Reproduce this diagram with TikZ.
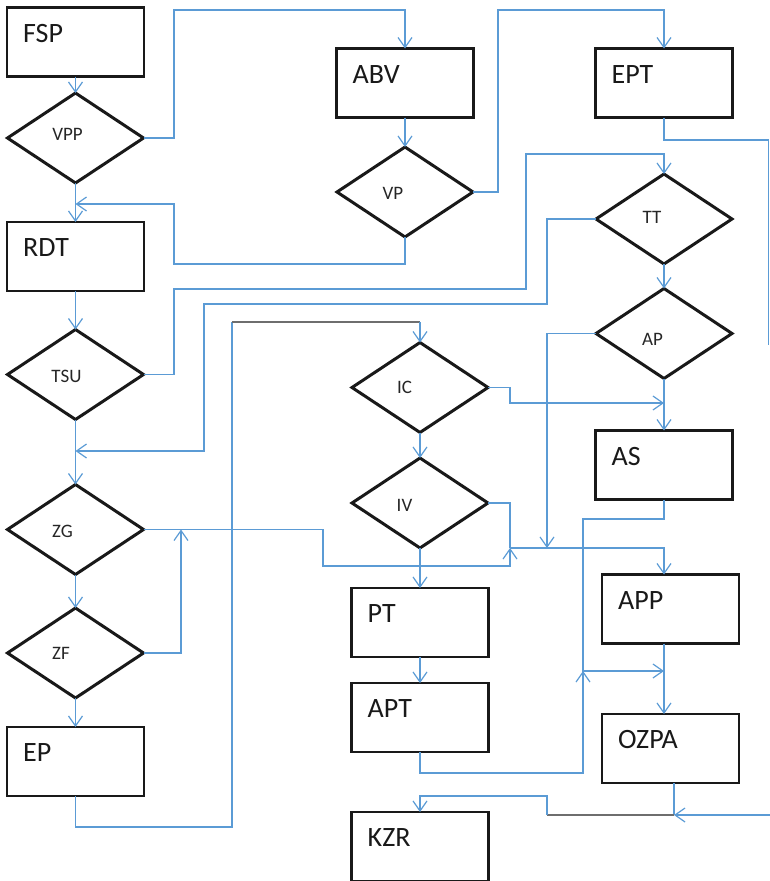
\documentclass[tikz,border=0pt]{standalone}
\usepackage{fontspec}
\setmainfont{Carlito}
\usetikzlibrary{shapes.geometric,arrows.meta,calc}
\definecolor{linkblue}{HTML}{5B9BD5}
\definecolor{linkgray}{HTML}{6E6E6E}
\begin{document}
\begin{tikzpicture}[x=1pt,y=-1pt,
  boxlbl/.style={anchor=west, xshift=16pt, yshift=-26pt, font=\fontsize{28}{30}\selectfont, inner sep=0pt, text=black!90},
  boxn/.style={draw=black!90, line width=2.4pt, rectangle, minimum width=137pt, minimum height=69pt, inner sep=0pt, outer sep=0pt, label={[boxlbl]north west:#1}},
  dia/.style={draw=black!90, line width=3pt, diamond, minimum width=136pt, minimum height=90pt, inner sep=0pt, outer sep=0pt},
  dlbl/.style={font=\fontsize{19}{21}\selectfont, inner sep=0pt, text=black!85},
  conn/.style={draw=linkblue, line width=1.2pt, -{Straight Barb[length=10pt,width=14pt]}},
  plainlink/.style={draw=linkblue, line width=1.2pt},
  grayline/.style={draw=linkgray, line width=1.4pt}]
\useasboundingbox (0,0) rectangle (770,881);

% column 1
\node[boxn=FSP] (fsp) at (75.5,42) {};
\node[dia, label={[dlbl,xshift=-8pt,yshift=4pt]center:VPP}] (vpp) at (75.5,138) {};
\node[boxn=RDT] (rdt) at (75.5,256.5) {};
\node[dia, label={[dlbl,xshift=-9pt,yshift=-1.5pt]center:TSU}] (tsu) at (75.5,374.5) {};
\node[dia, label={[dlbl,xshift=-13pt,yshift=-2pt]center:ZG}] (zg) at (75.5,529.5) {};
\node[dia, label={[dlbl,xshift=-14.5pt]center:ZF}] (zf) at (75.5,653) {};
\node[boxn=EP] (ep) at (75.5,761.5) {};

% column 2
\node[boxn=ABV] (abv) at (405,83) {};
\node[dia, label={[dlbl,xshift=-12pt,yshift=-1pt]center:VP}] (vp) at (405,192) {};
\node[dia, label={[dlbl,xshift=-15.5pt]center:IC}] (ic) at (420,387.5) {};
\node[dia, label={[dlbl,xshift=-15.5pt,yshift=-2pt]center:IV}] (iv) at (420,503) {};
\node[boxn=PT] (pt) at (420,622.5) {};
\node[boxn=APT] (apt) at (420,717.5) {};
\node[boxn=KZR] (kzr) at (420,846.5) {};

% column 3
\node[boxn=EPT] (ept) at (664,83) {};
\node[dia, label={[dlbl,xshift=-12pt,yshift=2pt]center:TT}] (tt) at (664,219) {};
\node[dia, label={[dlbl,xshift=-11.5pt,yshift=-5.5pt]center:AP}] (ap) at (664,333.5) {};
\node[boxn=AS] (as) at (664,465) {};
\node[boxn=APP] (app) at (670.5,609) {};
\node[boxn=OZPA] (ozpa) at (670.5,748.5) {};

% coordinates
\coordinate (a1) at (174,10);
\coordinate (a2) at (174,264);
\coordinate (j1) at (75.5,204);
\coordinate (a3) at (498,10);
\coordinate (a4) at (768.5,140);
\coordinate (a5) at (768.5,345);
\coordinate (a6) at (174,289);
\coordinate (a7) at (526,154);
\coordinate (a8) at (547,304);
\coordinate (a9) at (204,451);
\coordinate (j2) at (75.5,451);
\coordinate (a10) at (232,827);
\coordinate (a11) at (232,322);
\coordinate (a12) at (420,322);
\coordinate (a13) at (510,403);
\coordinate (j3) at (664,403);
\coordinate (j4) at (547,548);
\coordinate (j5) at (510,548);
\coordinate (a14) at (323,566);
\coordinate (j6) at (181,529.5);
\coordinate (a15) at (583,773);
\coordinate (j7) at (583,671);
\coordinate (j8) at (664,671);
\coordinate (a16) at (583,519);
\coordinate (j9) at (674,815);
\coordinate (a18) at (770,815);
\coordinate (a19) at (547,815);
\coordinate (a20) at (547,796);

% straight arrows
\draw[conn] (fsp.south) -- (vpp.north);
\draw[conn] (vpp.south) -- (rdt.north);
\draw[conn] (rdt.south) -- (tsu.north);
\draw[conn] (tsu.south) -- (zg.north);
\draw[conn] (zg.south) -- (zf.north);
\draw[conn] (zf.south) -- (ep.north);
\draw[conn] (abv.south) -- (vp.north);
\draw[conn] (ic.south) -- (iv.north);
\draw[conn] (iv.south) -- (pt.north);
\draw[conn] (pt.south) -- (apt.north);
\draw[conn] (tt.south) -- (ap.north);
\draw[conn] (ap.south) -- (as.north);

% routed connectors
\draw[conn] (vpp.east) -| (a1) -| (abv.north);
\draw[conn] (vp.south) |- (a2) |- (j1);
\draw[conn] (vp.east) -| (a3) -| (ept.north);
\draw[plainlink] (ept.south) |- (a4) -- (a5);
\draw[conn] (tsu.east) -| (a6) -| (a7) -| (tt.north);
\draw[conn] (tt.west) -| (a8) -| (a9) -- (j2);
\draw[plainlink] (ep.south) |- (a10) -- (a11);
\draw[grayline] (a11) -- (a12);
\draw[conn] (a12) -- (ic.north);
\draw[conn] (ic.east) -| (a13) -- (j3);
\draw[conn] (ap.west) -| (j4);
\draw[plainlink] (iv.east) -| (j5);
\draw[conn] (zg.east) -| (a14) -| (j5);
\draw[conn] (j5) -| (ap.south |- app.north);
\draw[conn] (zf.east) -| (j6);
\draw[conn] (apt.south) |- (a15) -- (j7);
\draw[conn] (as.south) |- (a16) -- (j7) -- (j8);
\draw[conn] (ap.south |- app.south) -- (ap.south |- ozpa.north);
\draw[plainlink] (ozpa.south -| j9) -- (j9);
\draw[conn] (a18) -- (j9);
\draw[grayline] (j9) -- (a19);
\draw[conn] (a19) -- (a20) -| (kzr.north);
\end{tikzpicture}
\end{document}
